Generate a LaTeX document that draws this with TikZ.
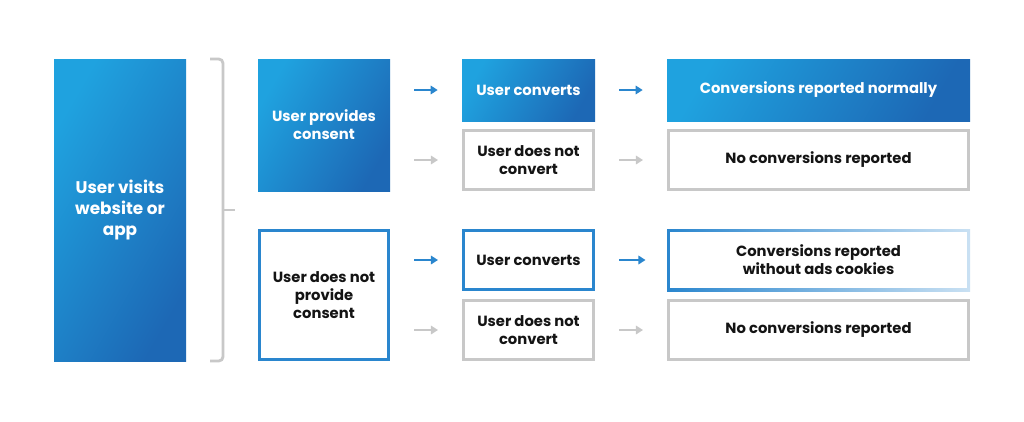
\documentclass[tikz,border=0pt]{standalone}
\usepackage{fontspec}
\setmainfont{Poppins}
\usepackage{tikz}
\usetikzlibrary{arrows.meta, positioning, calc}
\definecolor{blueL}{HTML}{1FA2DF}
\definecolor{blueD}{HTML}{1D68B5}
\definecolor{blueE}{HTML}{2A86CE}
\definecolor{grayE}{HTML}{C8C8C8}
\definecolor{inkT}{HTML}{141414}

\begin{document}
\begin{tikzpicture}[
    >=Stealth,
    box/.style={rectangle, inner sep=2pt, align=center, font=\fontsize{10.5}{12.8}\selectfont\bfseries},
    filled/.style={box, shading=axis, left color=blueL, right color=blueD, shading angle=60, text=white},
    outline/.style={box, draw=#1, line width=2pt, fill=white, text=inkT},
    flow/.style={-{Triangle[length=5pt, width=6pt]}, line width=1.6pt, draw=#1, shorten <=0.6cm, shorten >=0.6cm},
    brace/.style={draw=grayE, line width=2pt, rounded corners=3pt}
]
\useasboundingbox[fill=white] (0,0) rectangle (25.6,-10.525);

% Linke Spalte
\node[filled, minimum width=3.3cm, minimum height=7.55cm, font=\fontsize{12}{15}\selectfont\bfseries] (visit) at (3.0,-5.25) {User visits\\website or\\app};

% Einwilligung ja / nein
\node[filled, minimum width=3.3cm, minimum height=3.3cm] (consent) at (8.1,-3.125) {User provides\\consent};
\node[outline=blueE, minimum width=3.23cm, minimum height=3.23cm] (noconsent) at (8.1,-7.375) {User does not\\provide\\consent};

% Klammer
\draw[brace] (5.25,-1.475) -- (5.575,-1.475) -- (5.575,-9.025) -- (5.25,-9.025);
\draw[brace] (5.575,-5.25) -- (5.875,-5.25);

% Zweite Spalte
\node[filled, minimum width=3.325cm, minimum height=1.55cm] (conv1) at (13.2125,-2.25) {User converts};
\node[outline=grayE, minimum width=3.255cm, minimum height=1.48cm] (noconv1) at (13.2125,-4.0) {User does not\\convert};
\node[outline=blueE, minimum width=3.255cm, minimum height=1.48cm] (conv2) at (13.2125,-6.5) {User converts};
\node[outline=grayE, minimum width=3.255cm, minimum height=1.48cm] (noconv2) at (13.2125,-8.25) {User does not\\convert};

% Dritte Spalte
\node[filled, minimum width=7.575cm, minimum height=1.55cm] (normal) at (20.4625,-2.25) {Conversions reported normally};
\node[outline=grayE, minimum width=7.505cm, minimum height=1.48cm] (none1) at (20.4625,-4.0) {No conversions reported};
\shade[left color=blueE, right color=blueE!25] (16.675,-5.725) rectangle (24.25,-7.275);
\node[box, fill=white, minimum width=7.435cm, minimum height=1.41cm, text=inkT] (nocookie) at (20.4625,-6.5) {Conversions reported\\without ads cookies};
\node[outline=grayE, minimum width=7.505cm, minimum height=1.48cm] (none2) at (20.4625,-8.25) {No conversions reported};

% Pfeile
\draw[flow=blueE] (consent.east |- conv1.west) -- (conv1.west);
\draw[flow=grayE] (consent.east |- noconv1.west) -- (noconv1.west);
\draw[flow=blueE] (noconsent.east |- conv2.west) -- (conv2.west);
\draw[flow=grayE] (noconsent.east |- noconv2.west) -- (noconv2.west);
\draw[flow=blueE] (conv1) -- (normal);
\draw[flow=grayE] (noconv1) -- (none1);
\draw[flow=blueE] (conv2) -- (nocookie);
\draw[flow=grayE] (noconv2) -- (none2);

\end{tikzpicture}
\end{document}
